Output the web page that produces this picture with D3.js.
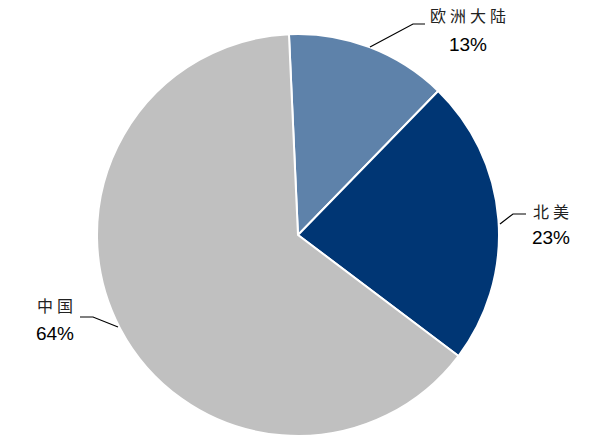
<!DOCTYPE html>
<html><head><meta charset="utf-8">
<script src="https://cdn.jsdelivr.net/npm/d3@7"></script>
<style>body{margin:0;background:#fff}svg{display:block}</style>
</head><body>
<svg id="c" width="600" height="445"></svg>
<script>
const categories = ["欧洲大陆", "北美", "中国"];
const values = [13, 23, 64];
const labels = ["13%", "23%", "64%"];
const colors = ["#5E82AA", "#003674", "#C0C0C0"];

const svg = d3.select("#c");
const cx = 298, cy = 235, r = 201;
const g = svg.append("g").attr("transform", `translate(${cx},${cy})`);
const start = -0.045;
const pie = d3.pie().sort(null).value(d => d).startAngle(start).endAngle(start + 2*Math.PI);
const arcs = pie(values);
const arc = d3.arc().innerRadius(0).outerRadius(r);
g.selectAll("path").data(arcs).join("path")
  .attr("d", arc).attr("fill", (d,i) => colors[i])
  .attr("stroke", "#fff").attr("stroke-width", 2).attr("stroke-linejoin", "round");

// label placements (layout only)
const lab = [
  {tx: 468, ty1: 22, ty2: 51, line: [[370,47],[413,24],[425,24]]},
  {tx: 551, ty1: 218, ty2: 244, line: [[500,224],[513,214],[526,214]]},
  {tx: 55, ty1: 312, ty2: 340, line: [[118,327],[93,317],[80,317]]}
];
const line = d3.line();
lab.forEach((L, i) => {
  svg.append("path").attr("d", line(L.line)).attr("fill","none").attr("stroke","#000").attr("stroke-width",1.2);
  svg.append("text").attr("x", L.tx + 2).attr("y", L.ty1).attr("text-anchor","middle")
    .attr("font-family","'Noto Sans CJK SC'").attr("font-size",16).attr("letter-spacing","4px")
    .attr("fill","#222").text(categories[i]);
  svg.append("text").attr("x", L.tx).attr("y", L.ty2).attr("text-anchor","middle")
    .attr("font-family","'Liberation Sans', Arial").attr("font-size",19)
    .attr("fill","#000").text(labels[i]);
});
</script>
</body></html>
